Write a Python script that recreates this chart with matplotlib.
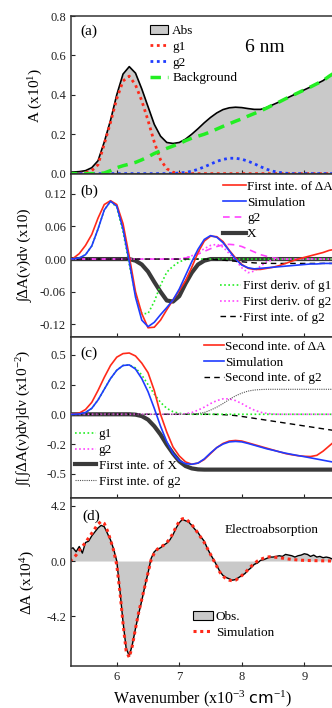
import numpy as np
import matplotlib
matplotlib.use("Agg")
import matplotlib.pyplot as plt
from matplotlib.patches import Patch
from matplotlib.lines import Line2D

plt.rcParams["font.family"] = ["Liberation Serif", "DejaVu Serif"]
plt.rcParams["mathtext.fontset"] = "custom"
plt.rcParams["mathtext.rm"] = "Liberation Serif"
plt.rcParams["mathtext.it"] = "Liberation Serif:italic"
plt.rcParams["mathtext.sf"] = "DejaVu Sans"

# x sampling grids (wavenumber, x10^3 cm^-1)
wn = np.round(np.arange(5.2, 9.55, 0.1), 2)
wn_d = np.round(np.arange(5.25, 9.52, 0.05), 2)

# (a) absorption and its decomposition
abs_a = [0.008, 0.008, 0.01, 0.015, 0.03, 0.065, 0.16, 0.27, 0.40, 0.505, 0.543, 0.51, 0.43, 0.34,
         0.25, 0.19, 0.158, 0.153, 0.158, 0.175, 0.2, 0.228, 0.258, 0.285, 0.308, 0.325, 0.334, 0.337,
         0.335, 0.33, 0.326, 0.326, 0.336, 0.35, 0.364, 0.38, 0.395, 0.41, 0.425, 0.44, 0.456, 0.472,
         0.495, 0.515]
g1_a = [0, 0, 0.001, 0.005, 0.015, 0.045, 0.15, 0.26, 0.38, 0.47, 0.495, 0.45, 0.37, 0.27, 0.16,
        0.07, 0.025, 0.007, 0.001] + [0] * 25
g2_a = [0] * 17 + [0.001, 0.003, 0.006, 0.012, 0.022, 0.034, 0.048, 0.062, 0.072, 0.078, 0.078,
                   0.073, 0.063, 0.05, 0.035, 0.022, 0.012, 0.006, 0.002] + [0] * 8
bg_a = [0, 0, 0, 0, 0, 0, 0.003, 0.015, 0.03, 0.04, 0.048, 0.057, 0.07, 0.085, 0.102, 0.115, 0.128,
        0.14, 0.152, 0.167, 0.18, 0.19, 0.2, 0.212, 0.226, 0.24, 0.253, 0.266, 0.278, 0.292, 0.305,
        0.318, 0.333, 0.349, 0.364, 0.38, 0.395, 0.41, 0.425, 0.44, 0.456, 0.472, 0.495, 0.515]

# (b) first integral
red_b = [0, 0.001, 0.01, 0.025, 0.045, 0.075, 0.1, 0.107, 0.1, 0.065, 0.005, -0.06, -0.1, -0.126,
         -0.125, -0.112, -0.093, -0.075, -0.058, -0.04, -0.015, 0.012, 0.033, 0.042, 0.041, 0.032,
         0.016, 0.002, -0.01, -0.017, -0.019, -0.019, -0.017, -0.015, -0.012, -0.008, -0.004, 0,
         0.003, 0.006, 0.009, 0.012, 0.016, 0.018]
blue_b = [0, 0.0005, 0.002, 0.008, 0.024, 0.055, 0.09, 0.106, 0.097, 0.055, -0.005, -0.07, -0.112,
          -0.124, -0.116, -0.102, -0.089, -0.075, -0.055, -0.03, -0.005, 0.018, 0.036, 0.043, 0.04,
          0.03, 0.015, 0.0, -0.011, -0.016, -0.018, -0.017, -0.016, -0.015, -0.014, -0.013, -0.012,
          -0.011, -0.01, -0.009, -0.009, -0.008, -0.008, -0.008]
dg1_b = [0, 0.0005, 0.002, 0.008, 0.024, 0.055, 0.09, 0.106, 0.095, 0.05, -0.01, -0.065, -0.1, -0.1,
         -0.078, -0.048, -0.024, -0.013, -0.005, -0.001] + [0] * 24
x_b = [0] * 11 + [-0.003, -0.01, -0.023, -0.042, -0.06, -0.076, -0.078, -0.068, -0.045, -0.025,
                  -0.01, -0.003, 0] + [0] * 20
g2_b = [0] * 18 + [0, 0.002, 0.005, 0.009, 0.014, 0.019, 0.023, 0.026, 0.027, 0.026, 0.023, 0.018,
                   0.013, 0.008, 0.005, 0.002, 0.001] + [0] * 9
dg2_b = [0] * 19 + [0.002, 0.006, 0.012, 0.019, 0.025, 0.027, 0.022, 0.01, -0.002, -0.016, -0.025,
                    -0.022, -0.013, -0.005, -0.001] + [0] * 10
ig2_b = [0] * 24 + [-0.001, -0.002, -0.003, -0.004, -0.005, -0.006, -0.007, -0.0075, -0.0078,
                    -0.008] + [-0.008] * 10

# (c) second integral
red_c = [0, 0.002, 0.01, 0.04, 0.1, 0.2, 0.31, 0.41, 0.48, 0.51, 0.515, 0.49, 0.43, 0.35, 0.2, 0.0,
         -0.15, -0.275, -0.35, -0.4, -0.42, -0.41, -0.38, -0.33, -0.28, -0.245, -0.225, -0.22,
         -0.225, -0.24, -0.255, -0.27, -0.285, -0.3, -0.315, -0.33, -0.34, -0.348, -0.353, -0.355,
         -0.345, -0.31, -0.265, -0.22]
blue_c = [0, 0, 0.003, 0.015, 0.05, 0.12, 0.21, 0.3, 0.37, 0.41, 0.415, 0.38, 0.3, 0.19, 0.05, -0.1,
          -0.23, -0.33, -0.39, -0.415, -0.42, -0.41, -0.375, -0.325, -0.28, -0.25, -0.232, -0.228,
          -0.232, -0.245, -0.26, -0.275, -0.29, -0.302, -0.315, -0.327, -0.337, -0.347, -0.356,
          -0.366, -0.376, -0.386, -0.396, -0.405]
g1_c = [0, 0, 0.003, 0.015, 0.05, 0.12, 0.21, 0.3, 0.37, 0.41, 0.415, 0.39, 0.33, 0.25, 0.17, 0.1,
        0.05, 0.022, 0.008, 0.002] + [0] * 24
ix_c = [0] * 11 + [-0.003, -0.015, -0.045, -0.1, -0.17, -0.255, -0.33, -0.395, -0.435, -0.455,
                   -0.463] + [-0.465] * 22
g2_c = [0] * 18 + [0, 0.005, 0.015, 0.035, 0.06, 0.09, 0.115, 0.13, 0.13, 0.115, 0.09, 0.06, 0.035,
                   0.017, 0.007, 0.002] + [0] * 10
ig2_c = [0] * 20 + [0.002, 0.006, 0.015, 0.035, 0.06, 0.09, 0.125, 0.155, 0.178, 0.195, 0.204,
                    0.208] + [0.21] * 12
iig2_c = [0] * 24 + [-0.001, -0.003, -0.006, -0.011, -0.018, -0.026, -0.034, -0.042, -0.05, -0.058,
                     -0.066, -0.074, -0.082, -0.09, -0.098, -0.106, -0.114, -0.122, -0.13, -0.138]

# (d) electroabsorption
obs_d = [0.9, 1.0, 0.7, 1.1, 0.6, 1.4, 1.5, 1.9, 2.2, 2.5, 2.7, 2.6, 2.1, 1.6, 0.9, 0.0, -2.2, -4.6,
         -6.6, -7.2, -6.3, -5.1, -4.0, -3.0, -1.9, -0.9, 0.2, 0.7, 0.9, 1.0, 1.2, 1.35, 1.6, 2.0, 2.5,
         2.9, 3.15, 3.05, 2.95, 2.7, 2.4, 2.15, 1.8, 1.5, 0.95, 0.5, 0.1, -0.35, -0.8, -1.1, -1.25,
         -1.35, -1.45, -1.4, -1.25, -1.1, -0.95, -0.7, -0.5, -0.25, -0.15, 0.05, 0.1, 0.2, 0.3, 0.3,
         0.35, 0.4, 0.35, 0.5, 0.45, 0.4, 0.3, 0.4, 0.45, 0.55, 0.5, 0.35, 0.45, 0.3, 0.35, 0.25, 0.3,
         0.25, 0.15, 0.2]
sim_d = [0.0, 0.2, 0.45, 0.8, 1.1, 1.4, 1.75, 2.1, 2.45, 2.8, 3.0, 2.85, 2.3, 1.6, 0.8, -0.3, -2.3,
         -4.7, -6.8, -7.3, -6.4, -5.1, -3.9, -2.9, -1.9, -0.9, 0.1, 0.6, 0.9, 1.05, 1.2, 1.4, 1.7, 2.1,
         2.6, 3.0, 3.2, 3.2, 3.0, 2.75, 2.45, 2.1, 1.75, 1.4, 0.95, 0.5, 0.05, -0.4, -0.85, -1.15,
         -1.35, -1.45, -1.5, -1.45, -1.3, -1.1, -0.9, -0.65, -0.4, -0.2, 0.0, 0.12, 0.22, 0.3, 0.32,
         0.3, 0.28, 0.25, 0.22, 0.18, 0.15, 0.12, 0.1, 0.08, 0.06, 0.05, 0.04, 0.035, 0.03, 0.025,
         0.02, 0.015, 0.01, 0.005, 0.0, 0.0]

RED, BLUE, GREEN, MAG, DARK = "#ff2a1a", "#1f3cff", "#22ee22", "#ff44ff", "#3a3a3a"
TICK_FS, LEG_FS, LAB_FS = 9, 9.5, 11
LEG_KW = dict(frameon=False, fontsize=LEG_FS, borderpad=0, borderaxespad=0, labelspacing=0.27,
              loc="upper left")

fig = plt.figure(figsize=(3.32, 7.08), dpi=100)
left, width = 71 / 332, 262.5 / 332
ax_a = fig.add_axes([left, 0.75424, width, 0.22316])
ax_b = fig.add_axes([left, 0.52359, width, 0.23065])
ax_c = fig.add_axes([left, 0.29619, width, 0.2274])
ax_d = fig.add_axes([left, 0.05932, width, 0.23686])

for ax in (ax_a, ax_b, ax_c, ax_d):
    ax.set_xlim(5.268, 9.467)
    ax.set_xticks([6, 7, 8, 9])
    ax.tick_params(direction="in", length=3, width=0.8, labelsize=TICK_FS, colors="#222222")
    ax.spines["right"].set_visible(False)
    for s in ("left", "bottom", "top"):
        ax.spines[s].set_linewidth(1.1)
        ax.spines[s].set_color("#333333")
    if ax is not ax_d:
        ax.tick_params(labelbottom=False)

# (a)
ax_a.fill_between(wn, abs_a, 0, color="#c9c9c9", lw=0)
ax_a.plot(wn, abs_a, color="black", lw=1.2)
l1, = ax_a.plot(wn, g1_a, color=RED, lw=2, ls=(0, (1, 1.3)))
l2, = ax_a.plot(wn, g2_a, color=BLUE, lw=2, ls=(0, (1, 1.3)))
l3, = ax_a.plot(wn, bg_a, color=GREEN, lw=2.5, ls=(0, (3, 2)))
ax_a.set_ylim(-0.002, 0.8)
ax_a.set_yticks([0, 0.2, 0.4, 0.6, 0.8])
ax_a.set_yticklabels(["%.1f" % v for v in [0, 0.2, 0.4, 0.6, 0.8]])
ax_a.set_ylabel("A (x10$^{1}$)", fontsize=LAB_FS)
ax_a.yaxis.set_label_coords(-0.10, 0.5)
ax_a.text(0.035, 0.88, "(a)", transform=ax_a.transAxes, fontsize=LAB_FS)
ax_a.text(0.737, 0.80, "6 nm", transform=ax_a.transAxes, fontsize=14, ha="center", va="center")
ax_a.legend([Patch(facecolor="#c9c9c9", edgecolor="black", lw=0.8), l1, l2, l3],
            ["Abs", "g1", "g2", "Background"], bbox_to_anchor=(0.30, 0.945),
            handlelength=1.4, handletextpad=0.3, **LEG_KW)

# (b)
ax_b.plot(wn, x_b, color=DARK, lw=3, zorder=2)
lb1, = ax_b.plot(wn, red_b, color=RED, lw=1.2, zorder=4)
lb2, = ax_b.plot(wn, blue_b, color=BLUE, lw=1.2, zorder=4)
lb3, = ax_b.plot(wn, g2_b, color=MAG, lw=1.2, ls=(0, (4, 3)), zorder=3)
lb5, = ax_b.plot(wn, dg1_b, color=GREEN, lw=1.2, ls=(0, (1, 1.5)), zorder=3)
lb6, = ax_b.plot(wn, dg2_b, color=MAG, lw=1.2, ls=(0, (1, 1.5)), zorder=3)
lb7, = ax_b.plot(wn, ig2_b, color="black", lw=1.0, ls=(0, (4, 3)), zorder=3)
lb4 = Line2D([], [], color=DARK, lw=3)
ax_b.set_ylim(-0.1435, 0.156)
ax_b.set_yticks([-0.12, -0.06, 0, 0.06, 0.12])
ax_b.set_yticklabels(["%.2f" % v for v in [-0.12, -0.06, 0, 0.06, 0.12]])
ax_b.set_ylabel("\u222b\u0394A(\u03bd)d\u03bd (x10)", fontsize=LAB_FS)
ax_b.yaxis.set_label_coords(-0.145, 0.5)
ax_b.text(0.035, 0.87, "(b)", transform=ax_b.transAxes, fontsize=LAB_FS)
leg_b1 = ax_b.legend([lb1, lb2, lb3, lb4], ["First inte. of \u0394A", "Simulation", "g2", "X"],
                     bbox_to_anchor=(0.58, 0.96), handlelength=1.7, handletextpad=0.1, **LEG_KW)
ax_b.add_artist(leg_b1)
ax_b.legend([lb5, lb6, lb7], ["First deriv. of g1", "First deriv. of g2", "First inte. of g2"],
            bbox_to_anchor=(0.569, 0.35), handlelength=1.6, handletextpad=0.1, **LEG_KW)

# (c)
ax_c.plot(wn, ix_c, color=DARK, lw=3, zorder=2)
lc1, = ax_c.plot(wn, red_c, color=RED, lw=1.2, zorder=4)
lc2, = ax_c.plot(wn, blue_c, color=BLUE, lw=1.2, zorder=4)
lc3, = ax_c.plot(wn, iig2_c, color="black", lw=1.0, ls=(0, (4, 3)), zorder=3)
lc4, = ax_c.plot(wn, g1_c, color=GREEN, lw=1.2, ls=(0, (1, 1.5)), zorder=3)
lc5, = ax_c.plot(wn, g2_c, color=MAG, lw=1.2, ls=(0, (1, 1.5)), zorder=3)
lc7, = ax_c.plot(wn, ig2_c, color="#555555", lw=0.8, ls=(0, (1, 1)), zorder=3)
lc6 = Line2D([], [], color=DARK, lw=3)
ax_c.set_ylim(-0.706, 0.647)
ax_c.set_yticks([-0.5, -0.25, 0, 0.25, 0.5])
ax_c.set_yticklabels(["%.1f" % v for v in [-0.5, -0.25, 0, 0.25, 0.5]])
ax_c.set_ylabel("\u222b[\u222b\u0394A(\u03bd)d\u03bd]d\u03bd (x10$^{-2}$)", fontsize=LAB_FS)
ax_c.yaxis.set_label_coords(-0.14, 0.5)
ax_c.text(0.035, 0.88, "(c)", transform=ax_c.transAxes, fontsize=LAB_FS)
leg_c1 = ax_c.legend([lc1, lc2, lc3], ["Second inte. of \u0394A", "Simulation", "Second inte. of g2"],
                     bbox_to_anchor=(0.508, 0.98), handlelength=1.5, handletextpad=0.1, **LEG_KW)
ax_c.add_artist(leg_c1)
ax_c.legend([lc4, lc5, lc6, lc7], ["g1", "g2", "First inte. of X", "First inte. of g2"],
            bbox_to_anchor=(0.015, 0.435), handlelength=1.6, handletextpad=0.2, **LEG_KW)

# (d)
ax_d.fill_between(wn_d, obs_d, 0, color="#c9c9c9", lw=0)
ax_d.plot(wn_d, obs_d, color="black", lw=1.0)
ld2, = ax_d.plot(wn_d, sim_d, color=RED, lw=2.2, ls=(0, (1, 1.2)))
ax_d.set_ylim(-7.95, 4.75)
ax_d.set_yticks([-4.2, 0, 4.2])
ax_d.set_yticklabels(["%.1f" % v for v in [-4.2, 0, 4.2]])
ax_d.set_ylabel("\u0394A (x10$^{4}$)", fontsize=LAB_FS)
ax_d.yaxis.set_label_coords(-0.13, 0.5)
ax_d.set_xlabel("Wavenumber (x10$^{-3}$ $\\mathsf{cm}^{-1}$)", fontsize=11.5)
ax_d.text(0.045, 0.87, "(d)", transform=ax_d.transAxes, fontsize=LAB_FS)
ax_d.text(0.765, 0.81, "Electroabsorption", transform=ax_d.transAxes, fontsize=LEG_FS,
          ha="center", va="center")
ax_d.legend([Patch(facecolor="#c9c9c9", edgecolor="black", lw=0.8), ld2], ["Obs.", "Simulation"],
            bbox_to_anchor=(0.466, 0.33), handlelength=1.5, handletextpad=0.2, **LEG_KW)

fig.savefig("out.png", dpi=100)
